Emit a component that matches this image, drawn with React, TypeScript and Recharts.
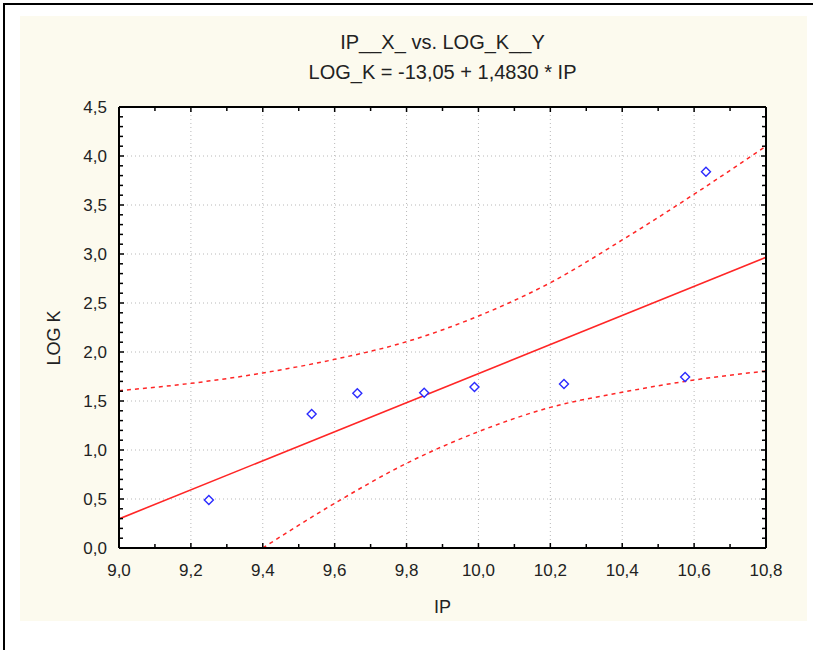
import React from "react";
import {
  ComposedChart,
  CartesianGrid,
  Line,
  ReferenceLine,
  Scatter,
  XAxis,
  YAxis,
} from "recharts";

// observed points
const ipValues = [9.25, 9.536, 9.663, 9.849, 9.989, 10.238, 10.575, 10.633];
const logKValues = [0.49, 1.367, 1.58, 1.585, 1.643, 1.673, 1.745, 3.84];

// fitted line end points
const fitIp = [9.0, 10.8];
const fitLogK = [0.297, 2.966];

// 95% confidence band
const upperIp = [9.0, 9.2, 9.4, 9.6, 9.8, 10.0, 10.2, 10.4, 10.6, 10.8];
const upperLogK = [1.605, 1.68, 1.786, 1.925, 2.105, 2.367, 2.707, 3.143, 3.61, 4.1];
const lowerIp = [9.4, 9.6, 9.8, 10.0, 10.2, 10.4, 10.6, 10.8];
const lowerLogK = [0.0, 0.456, 0.864, 1.187, 1.435, 1.589, 1.714, 1.806];

const xTicks = [
  9.0, 9.1, 9.2, 9.3, 9.4, 9.5, 9.6, 9.7, 9.8, 9.9, 10.0, 10.1, 10.2, 10.3,
  10.4, 10.5, 10.6, 10.7, 10.8,
];
const xMajor = [9.0, 9.2, 9.4, 9.6, 9.8, 10.0, 10.2, 10.4, 10.6, 10.8];
const yTicks = [
  0.0, 0.1, 0.2, 0.3, 0.4, 0.5, 0.6, 0.7, 0.8, 0.9, 1.0, 1.1, 1.2, 1.3, 1.4,
  1.5, 1.6, 1.7, 1.8, 1.9, 2.0, 2.1, 2.2, 2.3, 2.4, 2.5, 2.6, 2.7, 2.8, 2.9,
  3.0, 3.1, 3.2, 3.3, 3.4, 3.5, 3.6, 3.7, 3.8, 3.9, 4.0, 4.1, 4.2, 4.3, 4.4,
  4.5,
];
const yMajor = [0.0, 0.5, 1.0, 1.5, 2.0, 2.5, 3.0, 3.5, 4.0, 4.5];

const points = ipValues.map((x, i) => ({ x, y: logKValues[i] }));
const fit = fitIp.map((x, i) => ({ x, y: fitLogK[i] }));
const upper = upperIp.map((x, i) => ({ x, y: upperLogK[i] }));
const lower = lowerIp.map((x, i) => ({ x, y: lowerLogK[i] }));

const FONT = "'Liberation Sans', Arial, sans-serif";
const TXT = "#222";
const RED = "#ff2626";
const fmt = (v: number) => v.toFixed(1).replace(".", ",");
const isMajorX = (v: number) => Math.round(v * 10) % 2 === 0;
const isMajorY = (v: number) => Math.round(v * 10) % 5 === 0;

const BottomTick = (p: any) => {
  const { x, y, payload } = p;
  const major = isMajorX(payload.value);
  return (
    <g>
      <line x1={x} x2={x} y1={y} y2={y - (major ? 5 : 4)} stroke="#000" strokeWidth={1.5} />
      {major && (
        <text x={x} y={y + 28} textAnchor="middle" fill={TXT} fontSize={17} fontFamily={FONT}>
          {fmt(payload.value)}
        </text>
      )}
    </g>
  );
};

const TopTick = (p: any) => {
  const { x, y, payload } = p;
  const major = isMajorX(payload.value);
  return <line x1={x} x2={x} y1={y} y2={y + (major ? 5 : 4)} stroke="#000" strokeWidth={1.5} />;
};

const LeftTick = (p: any) => {
  const { x, y, payload } = p;
  const major = isMajorY(payload.value);
  return (
    <g>
      <line x1={x} x2={x + (major ? 5 : 4)} y1={y} y2={y} stroke="#000" strokeWidth={1.5} />
      {major && (
        <text x={x - 12} y={y + 6} textAnchor="end" fill={TXT} fontSize={17} fontFamily={FONT}>
          {fmt(payload.value)}
        </text>
      )}
    </g>
  );
};

const RightTick = (p: any) => {
  const { x, y, payload } = p;
  const major = isMajorY(payload.value);
  return <line x1={x} x2={x - (major ? 5 : 4)} y1={y} y2={y} stroke="#000" strokeWidth={1.5} />;
};

const Diamond = (p: any) => {
  const { cx, cy } = p;
  const r = 4.5;
  return (
    <polygon
      points={`${cx},${cy - r} ${cx + r},${cy} ${cx},${cy + r} ${cx - r},${cy}`}
      fill="#fff"
      stroke="#2b2bff"
      strokeWidth={1.4}
    />
  );
};

const titleStyle: React.CSSProperties = {
  position: "absolute",
  left: 99,
  width: 647,
  textAlign: "center",
  fontSize: 20,
  color: TXT,
  lineHeight: "20px",
};

export default function App() {
  return (
    <div
      style={{
        position: "absolute",
        left: 0,
        top: 0,
        width: 813,
        height: 650,
        background: "#fff",
        overflow: "hidden",
        fontFamily: FONT,
      }}
    >
      <div
        style={{
          position: "absolute",
          left: 3,
          top: 3,
          width: 820,
          height: 660,
          borderTop: "2px solid #000",
          borderLeft: "2px solid #000",
        }}
      />
      <div
        style={{
          position: "absolute",
          left: 20,
          top: 16,
          width: 787,
          height: 605,
          background: "#fcfaee",
        }}
      >
        <ComposedChart width={787} height={605} margin={{ top: 0, right: 0, bottom: 0, left: 0 }}>
          <CartesianGrid xAxisId="b" yAxisId="l" fill="#fff" horizontal={false} vertical={false} />
          <XAxis
            xAxisId="b"
            type="number"
            dataKey="x"
            domain={[9, 10.8]}
            ticks={xTicks}
            interval={0}
            height={73}
            tickSize={0}
            tickMargin={0}
            tickLine={false}
            axisLine={{ stroke: "#000", strokeWidth: 2 }}
            tick={<BottomTick />}
            allowDataOverflow
          />
          <XAxis
            xAxisId="t"
            orientation="top"
            type="number"
            dataKey="x"
            domain={[9, 10.8]}
            ticks={xTicks}
            interval={0}
            height={91}
            tickSize={0}
            tickMargin={0}
            tickLine={false}
            axisLine={{ stroke: "#000", strokeWidth: 2 }}
            tick={<TopTick />}
            allowDataOverflow
          />
          <YAxis
            yAxisId="l"
            type="number"
            domain={[0, 4.5]}
            ticks={yTicks}
            interval={0}
            width={99}
            tickSize={0}
            tickMargin={0}
            tickLine={false}
            axisLine={{ stroke: "#000", strokeWidth: 2 }}
            tick={<LeftTick />}
            allowDataOverflow
          />
          <YAxis
            yAxisId="r"
            orientation="right"
            type="number"
            domain={[0, 4.5]}
            ticks={yTicks}
            interval={0}
            width={41}
            tickSize={0}
            tickMargin={0}
            tickLine={false}
            axisLine={{ stroke: "#000", strokeWidth: 2 }}
            tick={<RightTick />}
            allowDataOverflow
          />
          {xMajor.slice(1, -1).map((v) => (
            <ReferenceLine key={"x" + v} xAxisId="b" yAxisId="l" x={v} stroke="#b8b8b8" strokeDasharray="1 3" />
          ))}
          {yMajor.slice(1, -1).map((v) => (
            <ReferenceLine key={"y" + v} xAxisId="b" yAxisId="l" y={v} stroke="#b8b8b8" strokeDasharray="1 3" />
          ))}
          <Line
            xAxisId="b"
            yAxisId="l"
            data={upper}
            dataKey="y"
            type="monotone"
            stroke={RED}
            strokeWidth={1.5}
            strokeDasharray="4 4"
            dot={false}
            activeDot={false}
            isAnimationActive={false}
          />
          <Line
            xAxisId="b"
            yAxisId="l"
            data={lower}
            dataKey="y"
            type="monotone"
            stroke={RED}
            strokeWidth={1.5}
            strokeDasharray="4 4"
            dot={false}
            activeDot={false}
            isAnimationActive={false}
          />
          <Line
            xAxisId="b"
            yAxisId="l"
            data={fit}
            dataKey="y"
            type="linear"
            stroke={RED}
            strokeWidth={1.6}
            dot={false}
            activeDot={false}
            isAnimationActive={false}
          />
          <Scatter
            xAxisId="b"
            yAxisId="l"
            data={points}
            dataKey="y"
            shape={<Diamond />}
            isAnimationActive={false}
          />
        </ComposedChart>
        <div style={{ ...titleStyle, top: 16 }}>IP__X_ vs. LOG_K__Y</div>
        <div style={{ ...titleStyle, top: 46 }}>LOG_K = -13,05 + 1,4830 * IP</div>
        <div style={{ ...titleStyle, top: 581, fontSize: 18 }}>IP</div>
        <div
          style={{
            position: "absolute",
            left: 34 - 50,
            top: 322 - 10,
            width: 100,
            textAlign: "center",
            fontSize: 18,
            color: TXT,
            lineHeight: "20px",
            transform: "rotate(-90deg)",
          }}
        >
          LOG K
        </div>
      </div>
    </div>
  );
}
